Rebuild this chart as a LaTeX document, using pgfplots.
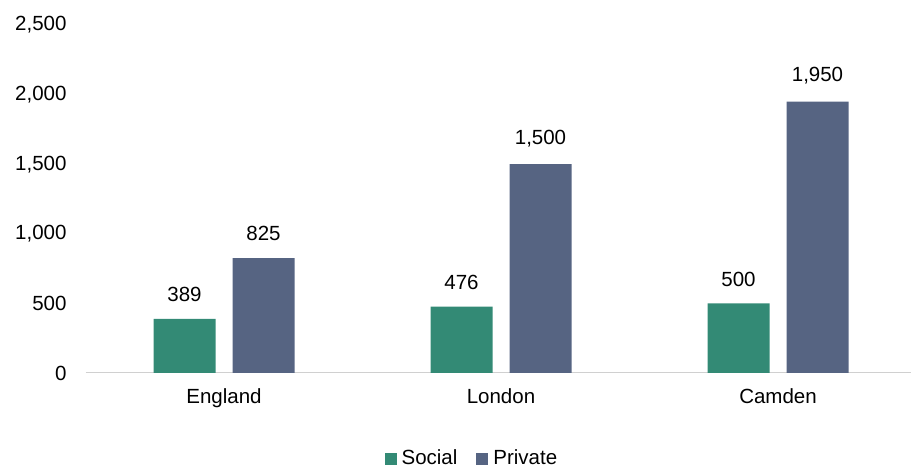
\documentclass[border=0pt]{standalone}
\usepackage{pgfplots}
\pgfplotsset{compat=1.18}
\usepackage{fontspec}
\setmainfont{Liberation Sans}
\definecolor{social}{HTML}{338A75}
\definecolor{private}{HTML}{566482}
\definecolor{axisgray}{HTML}{D0D0D0}

\begin{document}
\fontsize{20.5pt}{24pt}\selectfont
\begin{tikzpicture}
\useasboundingbox (0,0) rectangle (911pt,468pt);
\begin{axis}[
    at={(85.5pt,95pt)}, anchor=south west,
    scale only axis,
    width=831pt, height=348pt,
    ybar=17pt, bar width=62pt,
    xmin=-0.5, xmax=2.5,
    ymin=0, ymax=2500,
    xtick=data,
    xticklabels={England, London, Camden},
    ytick={0,500,1000,1500,2000,2500},
    axis x line*=bottom,
    axis y line*=left,
    axis line style={-},
    x axis line style={draw=axisgray, line width=1pt},
    y axis line style={draw=none},
    major tick length=0pt,
    yticklabel style={xshift=-12pt},
    xticklabel style={yshift=-9pt},
    /pgf/number format/1000 sep={,},
    /pgf/number format/assume math mode=true,
    nodes near coords,
    nodes near coords style={anchor=south, yshift=10pt,
        /pgf/number format/1000 sep={,}},
    every node near coord/.append style={text=black},
    legend style={at={(0.465,-0.245)}, anchor=center, draw=none,
        legend columns=2, column sep=3pt, inner sep=0pt,
        /tikz/every even column/.append style={column sep=17pt}},
    legend image code/.code={\fill[#1] (0pt,-7pt) rectangle (12pt,5pt);},
    legend cell align=left,
]
\addplot[fill=social, draw=none] coordinates {(0,389) (1,476) (2,500)};
\addplot[fill=private, draw=none] coordinates {(0,825) (1,1500) (2,1950)};
\legend{Social, Private}
\end{axis}
\end{tikzpicture}
\end{document}
